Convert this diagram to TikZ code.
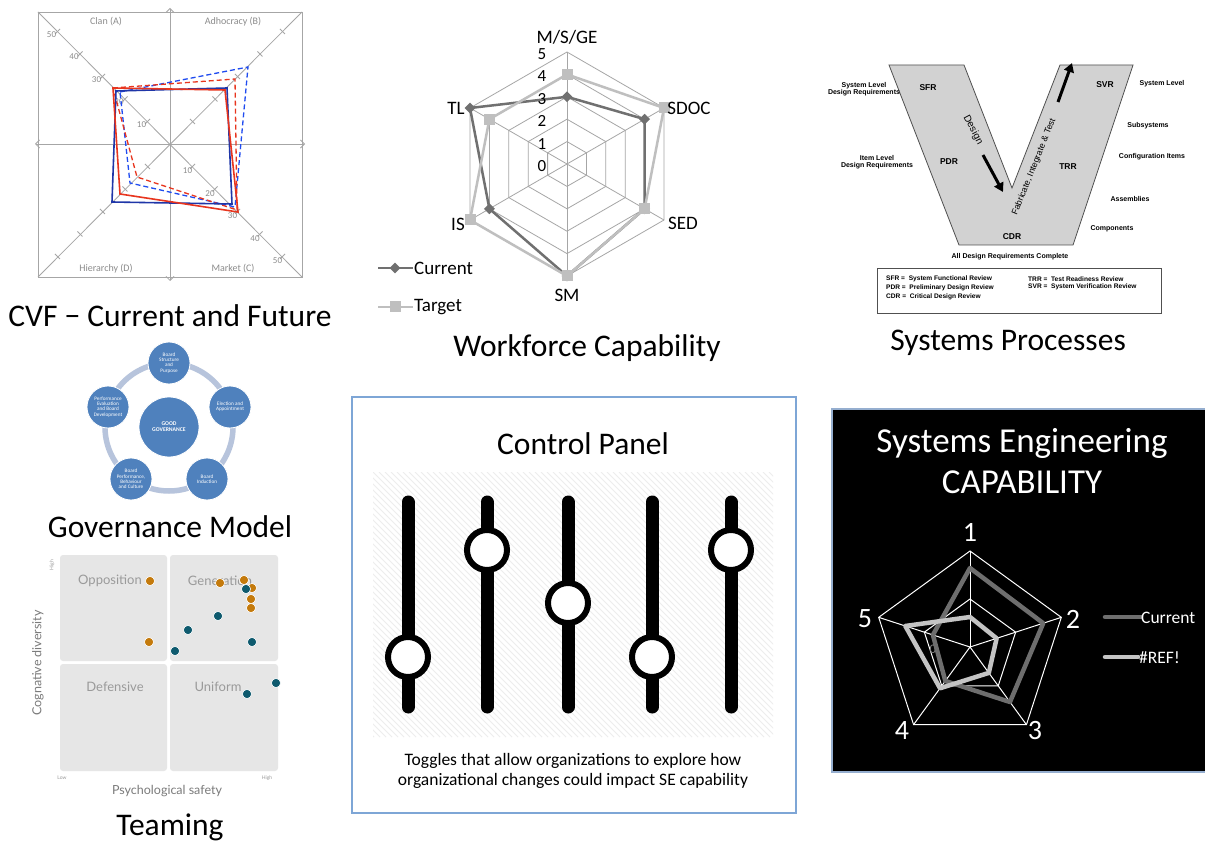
\documentclass[tikz,border=0pt]{standalone}
\usepackage{fontspec}
\setmainfont{Carlito}
\newfontfamily\arialf{Liberation Sans}
\newfontfamily\latof{Lato}
\usetikzlibrary{arrows.meta,calc,shapes.geometric}
\definecolor{gridgray}{HTML}{A6A6A6}
\definecolor{labgray}{HTML}{8C8C8C}
\definecolor{cvfnavy}{HTML}{1F36A8}
\definecolor{cvfblue}{HTML}{1F4BF0}
\definecolor{cvfred}{HTML}{E8351E}
\definecolor{curgray}{HTML}{707070}
\definecolor{tgtgray}{HTML}{BFBFBF}
\definecolor{vfill}{HTML}{D2D2D2}
\definecolor{vline}{HTML}{505050}
\definecolor{govblue}{HTML}{4F81BD}
\definecolor{govring}{HTML}{B7C4DC}
\definecolor{quad}{HTML}{E6E6E6}
\definecolor{quadtext}{HTML}{9A9A9A}
\definecolor{orng}{HTML}{C47A0C}
\definecolor{tealdot}{HTML}{0E5A6E}
\definecolor{panelblue}{HTML}{7EA6D6}
\definecolor{stripe}{HTML}{EDEDED}
\definecolor{seborder}{HTML}{95AECF}
\definecolor{secur}{HTML}{6E6E6E}
\definecolor{seref}{HTML}{C4C4C4}
\newcommand{\fsz}[1]{\fontsize{#1}{#1}\selectfont}
\begin{document}
\begin{tikzpicture}[x=1pt,y=-1pt,
  caption/.style={font=\fsz{31.5}, inner sep=0pt},
  cvfgrid/.style={draw=gridgray, line width=0.8pt},
  cvflab/.style={font=\fsz{10}, text=labgray, inner sep=0pt},
  cvfnum/.style={font=\fsz{9}, text=labgray, inner sep=0pt},
  axisarrow/.style={cvfgrid, {Straight Barb[length=4pt,width=8pt]}-{Straight Barb[length=4pt,width=8pt]}},
  wfgrid/.style={draw=gridgray, line width=0.8pt},
  wflab/.style={font=\fsz{19}, inner sep=0pt},
  wfnum/.style={font=\fsz{17}, inner sep=0pt},
  curline/.style={draw=curgray, line width=2.5pt, line join=round},
  tgtline/.style={draw=tgtgray, line width=2.5pt, line join=round},
  curmark/.style={diamond, fill=curgray, inner sep=0pt, minimum size=11pt},
  tgtmark/.style={rectangle, fill=tgtgray, inner sep=0pt, minimum size=11pt},
  vlab/.style={font=\arialf\bfseries\fsz{7}, align=center, inner sep=0pt},
  vrev/.style={font=\arialf\bfseries\fsz{8.5}, inner sep=0pt},
  vkey/.style={font=\arialf\bfseries\fsz{6.6}, anchor=west, inner sep=0pt},
  varrow/.style={line width=3pt, -{Triangle[length=9pt,width=10pt]}},
  govcirc/.style={circle, fill=govblue, draw=white, line width=0.8pt, minimum size=42pt, inner sep=0pt, text=white, font=\fsz{5.2}, align=center},
  quadbox/.style={fill=quad, rounded corners=3pt},
  quadlab/.style={font=\latof\fsz{13}, text=quadtext, inner sep=0pt},
  odot/.style={fill=orng, draw=white, line width=0.6pt},
  tdot/.style={fill=tealdot, draw=white, line width=0.6pt},
  slider/.style={line width=13pt, line cap=round},
  knob/.style={line width=6pt, fill=white},
  seline/.style={draw=white, line width=1pt},
  selab/.style={font=\fsz{28}, text=white, inner sep=0pt},
  securline/.style={draw=secur, line width=4.5pt, line join=round},
  sereflin/.style={draw=seref, line width=4.5pt, line join=round}
]
\useasboundingbox (0,0) rectangle (1205,842);
\fill[white] (0,0) rectangle (1205,842);

%% ---------------- Competing values framework ----------------
\draw[cvfgrid] (38,12) rectangle (302,277);
\draw[cvfgrid] (38,12) -- (302,277);
\draw[cvfgrid] (302,12) -- (38,277);
\draw[axisarrow] (35,144) -- (305,144);
\draw[axisarrow] (170,8) -- (170,281);
\foreach \k in {1,...,5}{
  \pgfmathsetmacro\d{22.5*\k}
  \draw[cvfgrid] ({170-\d-2.5},{144-\d+2.5}) -- ({170-\d+2.5},{144-\d-2.5});
  \draw[cvfgrid] ({170+\d-2.5},{144-\d-2.5}) -- ({170+\d+2.5},{144-\d+2.5});
  \draw[cvfgrid] ({170-\d-2.5},{144+\d-2.5}) -- ({170-\d+2.5},{144+\d+2.5});
  \draw[cvfgrid] ({170+\d-2.5},{144+\d+2.5}) -- ({170+\d+2.5},{144+\d-2.5});
  \pgfmathtruncatemacro\v{10*\k}
  \node[cvfnum] (tl\k) at ({170-\d-6},{144-\d+3}) {\v};
  \node[cvfnum] (br\k) at ({170+\d-5},{144+\d+4.5}) {\v};
}
\node[cvflab] (clan) at (106,22) {Clan (A)};
\node[cvflab] (adho) at (233,22) {Adhocracy (B)};
\node[cvflab] (hier) at (106,269) {Hierarchy (D)};
\node[cvflab] (mark) at (233,269) {Market (C)};
\draw[cvfblue, line width=1.3pt, dash pattern=on 5pt off 3pt] (120,92) -- (248,67) -- (235,207) -- (130,183) -- cycle;
\draw[cvfred, line width=1.3pt, dash pattern=on 5pt off 3pt] (113,88) -- (235,79) -- (237,210) -- (137,177) -- cycle;
\draw[cvfnavy, line width=1.6pt] (116,91) -- (227,88) -- (232,204) -- (112,202) -- cycle;
\draw[cvfred, line width=1.6pt] (113,88) -- (225,90) -- (238,212) -- (120,194) -- cycle;
\node[caption] (cvfcap) at (170,316) {CVF − Current and Future};

%% ---------------- Workforce capability radar ----------------
\begin{scope}[shift={(567,164)}, y=1pt]
  \foreach \k in {1,...,5}
    \draw[wfgrid] (90:{22.4*\k}) -- (30:{22.4*\k}) -- (-30:{22.4*\k}) -- (-90:{22.4*\k}) -- (-150:{22.4*\k}) -- (150:{22.4*\k}) -- cycle;
  \foreach \a in {90,30,-30,-90,-150,150}
    \draw[wfgrid] (0,0) -- (\a:112);
  \draw[curline] (90:67.2) -- (30:89.6) -- (-30:89.6) -- (-90:112) -- (-150:89.6) -- (150:112) -- cycle;
  \foreach \a/\r in {90/67.2,30/89.6,-30/89.6,-90/112,-150/89.6,150/112}
    \node[curmark] at (\a:\r) {};
  \draw[tgtline] (90:89.6) -- (30:112) -- (-30:89.6) -- (-90:112) -- (-150:112) -- (150:89.6) -- cycle;
  \foreach \a/\r in {90/89.6,30/112,-30/89.6,-90/112,-150/112,150/89.6}
    \node[tgtmark] at (\a:\r) {};
\end{scope}
\foreach \k in {0,...,5}
  \node[wfnum] (wfn\k) at (542,{166-22.4*\k}) {\k};
\node[wflab] (msge) at (567,37) {M/S/GE};
\node[wflab] (sdoc) at (689,108) {SDOC};
\node[wflab] (sed) at (683,223) {SED};
\node[wflab] (sm) at (567,295) {SM};
\node[wflab] (is) at (458,224) {IS};
\node[wflab] (tl) at (456,108) {TL};
\draw[curline] (378,268) -- (413,268);
\node[curmark] at (395,268) {};
\node[wflab, anchor=west] (curleg) at (414,268) {Current};
\draw[tgtline] (378,307) -- (413,307);
\node[tgtmark] at (395,307) {};
\node[wflab, anchor=west] (tgtleg) at (414,307) {Target};
\node[caption] (wfcap) at (587,348) {Workforce Capability};

%% ---------------- Systems engineering V ----------------
\draw[vline, line width=0.8pt, fill=vfill] (889,65) -- (964,65) -- (1012,188) -- (1060,65) -- (1133,65) -- (1073,245) -- (959,245) -- cycle;
\node[vlab] (sldr) at (864,89) {System Level\\Design Requirements};
\node[vlab] (ildr) at (877,162) {Item Level\\Design Requirements};
\node[vrev] (sfr) at (928,88) {SFR};
\node[vrev] (pdr) at (949,162) {PDR};
\node[vrev] (cdr) at (1012,237) {CDR};
\node[vrev] (trr) at (1068,167) {TRR};
\node[vrev] (svr) at (1105,85) {SVR};
\node[font=\arialf\fsz{10}, rotate=-62, inner sep=0pt] (design) at (973,130) {Design};
\node[font=\arialf\fsz{8.8}, rotate=68, inner sep=0pt] (fit) at (1034,167) {Fabricate, Integrate \& Test};
\coordinate (dA) at (983,155);
\coordinate (dB) at (1003,192);
\coordinate (uA) at (1058,102);
\coordinate (uB) at (1072,63);
\draw[varrow] (dA) -- (dB);
\draw[varrow] (uA) -- (uB);
\node[vlab] (rsl) at (1162,84) {System Level};
\node[vlab] (rss) at (1148,126) {Subsystems};
\node[vlab] (rci) at (1152,157) {Configuration Items};
\node[vlab] (ras) at (1130,199) {Assemblies};
\node[vlab] (rco) at (1112,229) {Components};
\node[vlab] (adrc) at (1010,257) {All Design Requirements Complete};
\draw[vline, line width=0.8pt] (877,268) rectangle (1161,313);
\node[vkey] (ksfr) at (886,279) {SFR =\ \ System Functional Review};
\node[vkey] (kpdr) at (886,288) {PDR =\ \ Preliminary Design Review};
\node[vkey] (kcdr) at (886,297) {CDR =\ \ Critical Design Review};
\node[vkey] (ktrr) at (1028,279) {TRR =\ \ Test Readiness Review};
\node[vkey] (ksvr) at (1028,287) {SVR =\ \ System Verification Review};
\node[caption] (spcap) at (1008,343) {Systems Processes};

%% ---------------- Governance model ----------------
\draw[govring, line width=5.5pt] (169,427) circle (64pt);
\node[govcirc, minimum size=60pt, font=\bfseries\fsz{5.7}] (good) at (169,427) {GOOD\\GOVERNANCE};
\node[govcirc] (bsp) at (169,363) {Board\\Structure\\and\\Purpose};
\node[govcirc] (ea) at (230,407) {Election and\\Appointment};
\node[govcirc] (bi) at (207,479) {Board\\Induction};
\node[govcirc] (bp) at (131,479) {Board\\Performance,\\Behaviour\\and Culture};
\node[govcirc] (pe) at (108,407) {Performance\\Evaluation\\and Board\\Development};
\node[caption] (govcap) at (170,527) {Governance Model};

%% ---------------- Teaming ----------------
\fill[quadbox] (60,555) rectangle (167,661);
\fill[quadbox] (170,555) rectangle (278,661);
\fill[quadbox] (60,664) rectangle (167,771);
\fill[quadbox] (170,664) rectangle (278,771);
\node[quadlab] (opp) at (110,581) {Opposition};
\node[quadlab] (gen) at (220,581) {Generation};
\node[quadlab] (def) at (115,687) {Defensive};
\node[quadlab] (uni) at (218,687) {Uniform};
\node[font=\latof\fsz{5}, text=quadtext, rotate=90, inner sep=0pt] (hiy) at (52,565) {High};
\node[font=\latof\fsz{12.5}, text=quadtext!80!black, rotate=90, inner sep=0pt] (cogd) at (38,663) {Cognative diversity};
\node[font=\latof\fsz{5}, text=quadtext, inner sep=0pt] (lox) at (62,778) {Low};
\node[font=\latof\fsz{5}, text=quadtext, inner sep=0pt] (hix) at (267,778) {High};
\node[font=\latof\fsz{12.5}, text=quadtext!80!black, inner sep=0pt] (psy) at (167,791) {Psychological safety};
\foreach \x/\y in {150/581,220/583,244/580,252/588,251/599,251/608,149/642}
  \filldraw[odot] (\x,\y) circle (4.6pt);
\foreach \x/\y in {246/589,218/616,188/630,175/651,252/642,276/683,247/694}
  \filldraw[tdot] (\x,\y) circle (4.6pt);
\node[caption] (teamcap) at (170,827) {Teaming};

%% ---------------- Control panel ----------------
\draw[panelblue, line width=1.2pt] (352,397) rectangle (796,813);
\node[font=\fsz{31.5}, inner sep=0pt] (cptitle) at (583,444) {Control Panel};
\begin{scope}
  \clip (373,472) rectangle (773,737);
  \foreach \i in {-270,-264,...,400}
    \draw[stripe, line width=0.8pt] (373+\i,472) -- ++(265,265);
\end{scope}
\foreach \x/\y in {408/657,487/550,568/603,652/657,731/550}{
  \draw[slider] (\x,502) -- (\x,707);
  \draw[knob] (\x,\y) circle (20pt);
}
\node[font=\fsz{17.5}, align=center, inner sep=0pt] (cpcap) at (573,771) {Toggles that allow organizations to explore how\\[2pt]organizational changes could impact SE capability};

%% ---------------- SE capability radar ----------------
\fill[black] (832,409) rectangle (1205,772);
\draw[seborder, line width=1.5pt] (1206,409) -- (832,409) -- (832,772) -- (1206,772);
\node[font=\fsz{35}, text=white, align=center, inner sep=0pt] (setitle) at (1022,461) {Systems Engineering\\[6pt]CAPABILITY};
\begin{scope}[shift={(970,647)}, y=1pt]
  \foreach \r in {48,96}
    \draw[seline] (90:\r) -- (18:\r) -- (-54:\r) -- (-126:\r) -- (162:\r) -- cycle;
  \foreach \a in {90,18,-54,-126,162}
    \draw[seline] (0,0) -- (\a:96);
  \node[font=\fsz{13}, text=gray, inner sep=0pt] (zero) at (-37,-2) {0};
  \draw[securline] (90:79) -- (18:77) -- (-54:68) -- (-126:42) -- (162:39) -- cycle;
  \draw[sereflin] (90:30) -- (18:28) -- (-54:32) -- (-126:51) -- (162:68) -- cycle;
\end{scope}
\node[selab] (s1) at (970,532) {1};
\node[selab] (s2) at (1073,619) {2};
\node[selab] (s3) at (1035,731) {3};
\node[selab] (s4) at (902,731) {4};
\node[selab] (s5) at (865,619) {5};
\draw[securline, line cap=round] (1105,617) -- (1141,617);
\node[font=\fsz{17.5}, text=white, anchor=west, inner sep=0pt] (secur) at (1141,618) {Current};
\draw[sereflin, line cap=round] (1105,657) -- (1138,657);
\node[font=\fsz{17.5}, text=white, anchor=west, inner sep=0pt] (seref) at (1139,658) {\#REF!};
\end{tikzpicture}
\end{document}
